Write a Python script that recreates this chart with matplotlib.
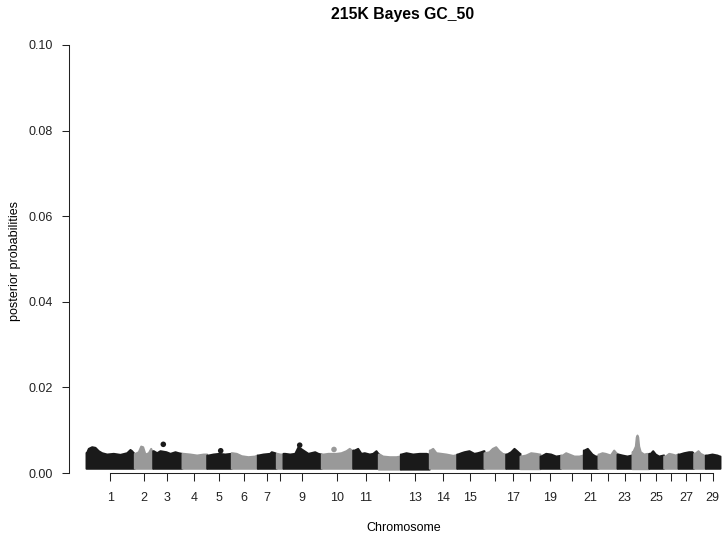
import numpy as np
import matplotlib
matplotlib.use('Agg')
import matplotlib.pyplot as plt

plt.rcParams['font.family'] = ['Liberation Sans', 'DejaVu Sans']

title = '215K Bayes GC_50'
chr_names = [str(i) for i in range(1, 30)]
# chromosomes that get a printed label (the rest keep an unlabeled tick)
labeled = ['1', '2', '3', '4', '5', '6', '7', '9', '10', '11', '13', '14', '15',
           '17', '19', '21', '23', '25', '27', '29']

# cumulative chromosome boundaries (SNP index, arbitrary units)
chr_bounds = [0, 48.3, 66.7, 96, 120.7, 145.3, 171.3, 190.3, 197, 235.3, 266.7,
              292.3, 314.3, 343.3, 370.7, 398, 419.7, 434, 454, 474.7, 497.3,
              512, 531, 546, 562.7, 577.7, 592, 607.7, 619.3, 634]

# lower edge of the dense cloud of SNPs, per chromosome
band_low = [0.0011, 0.0011, 0.0011, 0.0011, 0.0011, 0.0011, 0.0011, 0.0011, 0.0011,
            0.0011, 0.0011, 0.0009, 0.0009, 0.0011, 0.0011, 0.0011, 0.0011, 0.0010,
            0.0011, 0.0011, 0.0011, 0.0011, 0.0011, 0.0010, 0.0011, 0.0011, 0.0011,
            0.0011, 0.0011]

# upper edge of the SNP cloud (position, posterior probability)
env_pos = [0.5, 2.3, 5.7, 9, 12.3, 15.7, 20.7, 27.3, 34, 40.7, 44, 45.7, 47.8,
           49, 52.3, 54.7, 56.7, 59, 62.3, 64.7, 66.2,
           67.3, 70.7, 74, 80, 84, 89, 92.3, 95.5,
           97.3, 104, 110.7, 117.3, 120.2,
           122, 127, 133, 138.7, 144.8,
           146, 150.3, 155.3, 162, 168.7, 170.8,
           172, 177, 183.7, 185.3, 188.7, 189.8,
           191, 194, 196.5,
           198.7, 203.7, 208.7, 212, 217, 222, 228.7, 232, 234.8,
           237, 242, 246, 250, 255, 260, 263.3, 266.2,
           268.3, 271.7, 275, 278.3, 283.3, 286.7, 290, 291.8,
           293.3, 296.7, 303.3, 310, 313.8,
           315, 320, 326.7, 333.3, 340, 342.8,
           344, 346.7, 350, 355, 360, 366.7, 370.2,
           371.5, 375, 378, 383, 388, 391.3, 394.7, 397.5,
           398.7, 403, 406.3, 409.7, 413, 416.3, 419.2,
           420.7, 424.7, 428, 430.7, 433.5,
           434.7, 439.7, 444.7, 449.7, 453.5,
           454.7, 459.7, 464.7, 469.7, 474.2,
           476.3, 479.7, 483, 488, 493, 496.8,
           498, 501.3, 506, 509.3, 511.5,
           512.7, 516, 519.3, 524.3, 527.7, 530.5,
           532, 536, 541, 545.5,
           546.7, 549.3, 550.2, 551, 551.8, 552.7, 554.3, 557.7, 561, 562.2,
           564.3, 566.7, 569.3, 572.7, 577.2,
           579.3, 582.7, 586, 589.3, 591.5,
           593.3, 597.7, 602.7, 606, 607.2,
           608.7, 612, 614.3, 617.7, 618.8,
           621, 626, 631, 633.5]
env_top = [0.0048, 0.00576, 0.00615, 0.006, 0.00522, 0.00475, 0.00444, 0.0046, 0.00436, 0.00475, 0.0055, 0.0052, 0.0046,
           0.0046, 0.00498, 0.0063, 0.00615, 0.00444, 0.00475, 0.00576, 0.00498,
           0.00522, 0.00475, 0.00522, 0.00498, 0.0046, 0.00498, 0.00475, 0.0046,
           0.0046, 0.00444, 0.00421, 0.00444, 0.00444,
           0.0042, 0.00444, 0.0046, 0.00444, 0.0046,
           0.00475, 0.0046, 0.00405, 0.00382, 0.00397, 0.00421,
           0.00421, 0.00444, 0.0046, 0.00498, 0.00475, 0.0046,
           0.0046, 0.00444, 0.00444,
           0.0046, 0.00444, 0.0046, 0.00615, 0.00537, 0.0046, 0.00498, 0.0046, 0.00444,
           0.00444, 0.0046, 0.0046, 0.0046, 0.00475, 0.00522, 0.00576, 0.00522,
           0.00537, 0.00576, 0.0046, 0.00475, 0.00444, 0.0046, 0.00522, 0.0046,
           0.00444, 0.00397, 0.00382, 0.00382, 0.00397,
           0.00444, 0.00475, 0.00444, 0.0046, 0.0046, 0.00444,
           0.00537, 0.00576, 0.00475, 0.0046, 0.00444, 0.00413, 0.00428,
           0.00444, 0.00475, 0.00498, 0.00522, 0.0046, 0.00475, 0.00498, 0.00522,
           0.00475, 0.00498, 0.00576, 0.00615, 0.00522, 0.0046, 0.00444,
           0.00444, 0.00498, 0.00576, 0.00522, 0.0046,
           0.00397, 0.00421, 0.00475, 0.0046, 0.00444,
           0.00397, 0.0046, 0.00444, 0.00397, 0.00413,
           0.00421, 0.00475, 0.00444, 0.00397, 0.00397, 0.00421,
           0.00537, 0.00576, 0.00444, 0.00397, 0.00397,
           0.00444, 0.00475, 0.0046, 0.00421, 0.00537, 0.0046,
           0.00444, 0.00421, 0.00397, 0.00421,
           0.00498, 0.0063, 0.0084, 0.00888, 0.0084, 0.0063, 0.00498, 0.00444, 0.0046, 0.00444,
           0.0046, 0.00522, 0.00444, 0.00397, 0.00421,
           0.00397, 0.0046, 0.00444, 0.00421, 0.00444,
           0.00444, 0.00475, 0.00498, 0.00498, 0.0046,
           0.0046, 0.00522, 0.0046, 0.00421, 0.00397,
           0.00421, 0.00444, 0.00421, 0.00397]

# isolated SNPs standing above the cloud
peak_pos = [77.3, 134.7, 213.7, 248]
peak_val = [0.0067, 0.0052, 0.0065, 0.0055]

cols = ['#1a1a1a', '#999999']  # gray10 / gray60

W, H = 722, 540
fig = plt.figure(figsize=(W / 100, H / 100), dpi=100)
ax = fig.add_axes([69 / W, 67 / H, (W - 69) / W, 428 / H])

env_pos = np.array(env_pos)
env_top = np.array(env_top)
for i in range(len(chr_names)):
    lo, hi = chr_bounds[i], chr_bounds[i + 1]
    m = (env_pos > lo) & (env_pos < hi)
    xs = np.r_[lo, env_pos[m], hi]
    ys = np.r_[env_top[m][0], env_top[m], env_top[m][-1]]
    c = cols[i % 2]
    ax.fill_between(xs, band_low[i], ys, facecolor=c, edgecolor=c,
                    linewidth=1.4, joinstyle='round')

pk_chr = np.searchsorted(chr_bounds, peak_pos) - 1
ax.scatter(peak_pos, peak_val, s=16, c=[cols[k % 2] for k in pk_chr],
           edgecolors='none', zorder=3)

ticks = [(chr_bounds[i] + chr_bounds[i + 1]) / 2 for i in range(len(chr_names))]
ax.set_xticks(ticks)
ax.set_xticklabels([n if n in labeled else '' for n in chr_names])
ax.set_yticks(np.arange(0, 0.101, 0.02))
ax.set_yticklabels(['%.2f' % v for v in np.arange(0, 0.101, 0.02)])
ax.set_xlim(-17, 636)
ax.set_ylim(0, 0.1)

for s in ['top', 'right']:
    ax.spines[s].set_visible(False)
ax.spines['left'].set_bounds(0, 0.1)
ax.spines['bottom'].set_bounds(ticks[0], ticks[-1])
for s in ['left', 'bottom']:
    ax.spines[s].set_linewidth(0.75)
    ax.spines[s].set_color('#222222')

ax.tick_params(axis='x', length=6, width=0.75, pad=8, labelsize=9, colors='#222222')
ax.tick_params(axis='y', length=4.8, width=0.75, pad=7, labelsize=9, colors='#222222')

fig.text(15 / W, 1 - 261 / H, 'posterior probabilities', rotation=90,
         ha='center', va='center', fontsize=9)
fig.text(404 / W, 1 - 528 / H, 'Chromosome', ha='center', va='center', fontsize=9)
fig.text(402.8 / W, 1 - 15 / H, title, ha='center', va='center',
         fontsize=11.3, fontweight='bold')

fig.savefig('out.png', dpi=100)
